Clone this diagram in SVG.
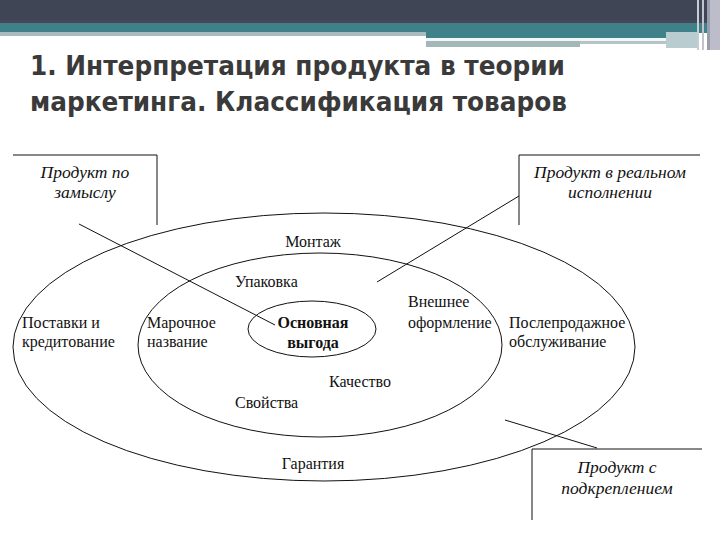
<svg xmlns="http://www.w3.org/2000/svg" width="720" height="540" viewBox="0 0 720 540">
<style>
.t{font-family:"Liberation Serif","Times New Roman",serif;font-size:16px;fill:#111}
.i{font-style:italic;text-anchor:middle;font-size:17.5px}
.b{font-weight:bold}
.ln{fill:none;stroke:#111;stroke-width:1}
.title{font-family:"DejaVu Sans","Noto Sans",sans-serif;font-size:26px;font-weight:bold;fill:#3a3a3a}
</style>
<rect width="720" height="540" fill="#fff"/>
<g id="header">
<rect x="0" y="0" width="720" height="23" fill="#404556"/>
<rect x="0" y="20" width="720" height="3" fill="#47475a"/>
<rect x="0" y="23" width="720" height="10" fill="#3f8189"/>
<rect x="0" y="32" width="426" height="4" fill="#a9bbbf"/>
<rect x="426" y="32" width="240" height="6" fill="#3f8189"/>
<rect x="426" y="38" width="240" height="3" fill="#f2f6f6"/>
<rect x="426" y="41" width="154" height="6" fill="#a3b7b9"/>
<rect x="580" y="41" width="86" height="3" fill="#b5c5c7"/>
<rect x="666" y="32" width="32" height="16" fill="#b9cdd0"/>
<rect x="697" y="0" width="2" height="50" fill="#c8ccd4"/>
<rect x="702" y="0" width="2" height="50" fill="#c0c4cc"/>
<rect x="707" y="0" width="3" height="50" fill="#9a9eac"/>
<rect x="710" y="0" width="10" height="50" fill="#bcbcca"/>
</g>
<g id="title">
<text class="title" x="30" y="75" textLength="535" lengthAdjust="spacingAndGlyphs">1. Интерпретация продукта в теории</text>
<text class="title" x="30" y="111" textLength="537" lengthAdjust="spacingAndGlyphs">маркетинга. Классификация товаров</text>
</g>
<g id="outer">
<ellipse class="ln" cx="324" cy="347" rx="311" ry="134"/>
<text class="t" x="313" y="247" text-anchor="middle">Монтаж</text>
<text class="t" x="22" y="328">Поставки и</text>
<text class="t" x="22" y="347">кредитование</text>
<text class="t" x="509" y="328">Послепродажное</text>
<text class="t" x="509" y="347">обслуживание</text>
<text class="t" x="313" y="469" text-anchor="middle">Гарантия</text>
</g>
<g id="middle">
<ellipse class="ln" cx="320" cy="345" rx="182" ry="92"/>
<text class="t" x="235" y="287">Упаковка</text>
<text class="t" x="147" y="328">Марочное</text>
<text class="t" x="147" y="347">название</text>
<text class="t" x="408" y="307">Внешнее</text>
<text class="t" x="408" y="328">оформление</text>
<text class="t" x="329" y="387">Качество</text>
<text class="t" x="235" y="408">Свойства</text>
</g>
<g id="core">
<ellipse class="ln" cx="312" cy="329" rx="64" ry="28"/>
<text class="t b" x="313" y="328" text-anchor="middle">Основная</text>
<text class="t b" x="313" y="348" text-anchor="middle">выгода</text>
</g>
<g id="box-idea">
<polyline class="ln" points="13,155 157,155 157,225"/>
<text class="t i" x="85" y="178">Продукт по</text>
<text class="t i" x="85" y="198">замыслу</text>
</g>
<g id="box-real">
<polyline class="ln" points="700,155 519,155 519,225"/>
<text class="t i" x="610" y="178">Продукт в реальном</text>
<text class="t i" x="610" y="198">исполнении</text>
</g>
<g id="box-reinforced">
<polyline class="ln" points="702,449 532,449 532,520"/>
<text class="t i" x="617" y="473">Продукт с</text>
<text class="t i" x="617" y="494">подкреплением</text>
</g>
<g id="connectors">
<line class="ln" x1="79" y1="224" x2="275" y2="325"/>
<line class="ln" x1="519" y1="196" x2="377" y2="282"/>
<line class="ln" x1="505" y1="420" x2="597" y2="448"/>
</g>
</svg>
